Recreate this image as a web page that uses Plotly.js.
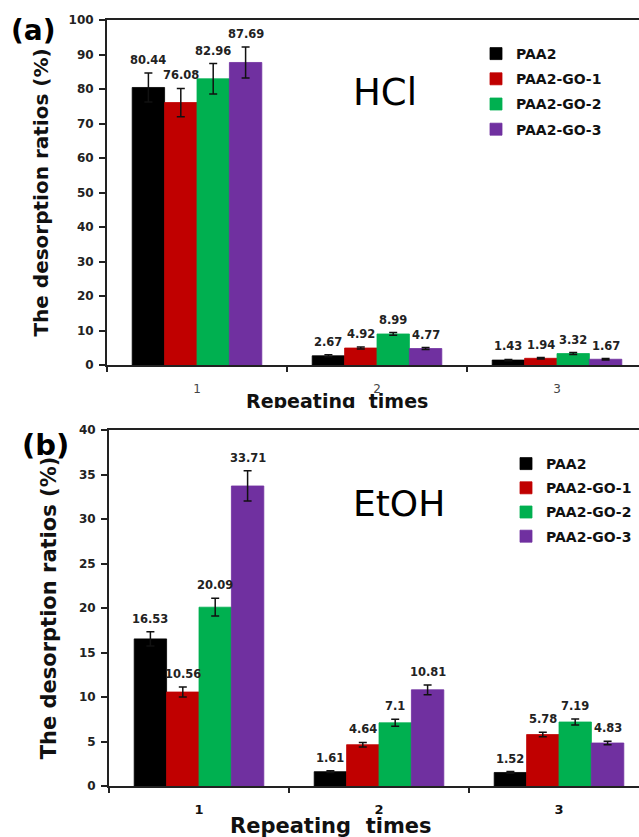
<!DOCTYPE html>
<html><head><meta charset="utf-8">
<script src="https://cdn.plot.ly/plotly-3.0.1.min.js"></script>
<style>
html,body{margin:0;padding:0;background:#fff;overflow:hidden;width:639px;height:837px;}
#wrapA{position:absolute;left:0;top:0;width:639px;height:408px;overflow:hidden;background:#fff;}
#wrapB{position:absolute;left:0;top:408px;width:639px;height:429px;overflow:hidden;background:#fff;}
</style></head><body>
<div id="wrapA"><div id="chartA"></div></div>
<div id="wrapB"><div id="chartB"></div></div>
<script>
// ---------- data ----------
const repeats = ['1', '2', '3'];
const seriesNames = ['PAA2', 'PAA2-GO-1', 'PAA2-GO-2', 'PAA2-GO-3'];

// (a) HCl
const hclPAA2 = [80.44, 2.67, 1.43];
const hclGO1  = [76.08, 4.92, 1.94];
const hclGO2  = [82.96, 8.99, 3.32];
const hclGO3  = [87.69, 4.77, 1.67];
const hclErrPAA2 = [4.2, 0.3, 0.2];
const hclErrGO1  = [4.1, 0.3, 0.2];
const hclErrGO2  = [4.4, 0.4, 0.3];
const hclErrGO3  = [4.5, 0.3, 0.2];

// (b) EtOH
const etohPAA2 = [16.53, 1.61, 1.52];
const etohGO1  = [10.56, 4.64, 5.78];
const etohGO2  = [20.09, 7.1, 7.19];
const etohGO3  = [33.71, 10.81, 4.83];
const etohErrPAA2 = [0.8, 0.1, 0.1];
const etohErrGO1  = [0.55, 0.25, 0.25];
const etohErrGO2  = [1.0, 0.4, 0.35];
const etohErrGO3  = [1.7, 0.55, 0.2];

// ---------- styles ----------
const colors = ['#000000', '#c00000', '#00b050', '#7030a0'];
const FONT = 'DejaVu Sans, Verdana, sans-serif';
const BARGAP = 0.28;

function makeTraces(valsList, errList, tag) {
  return valsList.map((vals, i) => ({
    type: 'bar', name: seriesNames[i], x: repeats, y: vals,
    legendgroup: tag + i,
    marker: {color: colors[i], line: {width: 0.8, color: colors[i]}},
    error_y: {type: 'data', array: errList[i], visible: true, color: '#111', thickness: 1.5, width: 4}
  }));
}
function makeLabels(valsList, errList) {
  const bw = (1 - BARGAP) / valsList.length;
  const out = [];
  valsList.forEach((vals, si) => {
    vals.forEach((v, ci) => {
      out.push({
        xref: 'x', yref: 'y', x: ci + (si - (valsList.length - 1) / 2) * bw,
        y: v + errList[si][ci], text: String(v), showarrow: false,
        xanchor: 'center', yanchor: 'bottom', yshift: 4,
        font: {family: FONT, size: 11.5, color: '#222', weight: 'bold'}
      });
    });
  });
  return out;
}
function pager(W, H, m, offY) {
  return (px, py) => ({
    x: (px - m.l) / (W - m.l - m.r),
    y: (H - m.b - (py - offY)) / (H - m.t - m.b)
  });
}
function baseLayout(W, H, m, yRange, dtick, xTickFont, xStandoff, legendPos, gap, yTitleSize, standoff) {
  return {
    width: W, height: H, margin: m,
    paper_bgcolor: '#fff', plot_bgcolor: '#fff',
    barmode: 'group', bargap: BARGAP, bargroupgap: 0,
    showlegend: true,
    legend: {x: legendPos.x, y: legendPos.y, xanchor: 'left', yanchor: 'top',
      bgcolor: 'rgba(0,0,0,0)', borderwidth: 0, tracegroupgap: gap, traceorder: 'grouped',
      font: {family: FONT, size: 14, color: '#111', weight: 'bold'}},
    xaxis: {type: 'category', range: [-0.5, 2.5], tickson: 'boundaries',
      ticks: 'outside', ticklen: 5, tickwidth: 2, tickcolor: '#222',
      showline: true, linewidth: 2, linecolor: '#222', mirror: true,
      showgrid: false, zeroline: false, ticklabelstandoff: xStandoff, tickfont: xTickFont},
    yaxis: {range: yRange, dtick: dtick, ticks: 'outside', ticklen: 6, tickwidth: 2, tickcolor: '#222',
      showline: true, linewidth: 2, linecolor: '#222', mirror: true,
      showgrid: false, zeroline: false, ticklabelstandoff: 3,
      tickfont: {family: FONT, size: 12, color: '#222', weight: 'bold'},
      title: {text: 'The desorption ratios (%)', standoff: standoff,
        font: {family: FONT, size: yTitleSize, color: '#111', weight: 'bold'}}}
  };
}

// ---------- panel (a) ----------
const WA = 650, HA = 420, mA = {l: 107, r: 3, t: 20, b: 55};
const pA = pager(WA, HA, mA, 0);
const legA = pA(476, 38);
const layoutA = baseLayout(WA, HA, mA, [0, 100], 10,
  {family: FONT, size: 12, color: '#444'}, 12, legA, 4, 20, 15);
const valsA = [hclPAA2, hclGO1, hclGO2, hclGO3];
const errsA = [hclErrPAA2, hclErrGO1, hclErrGO2, hclErrGO3];
const a1 = pA(33, 30), a2 = pA(385, 92), a3 = pA(337, 401);
layoutA.annotations = makeLabels(valsA, errsA).concat([
  {xref: 'paper', yref: 'paper', x: a1.x, y: a1.y, text: '(a)', showarrow: false,
    xanchor: 'center', yanchor: 'middle', font: {family: FONT, size: 28, color: '#000', weight: 'bold'}},
  {xref: 'paper', yref: 'paper', x: a2.x, y: a2.y, text: 'HCl', showarrow: false,
    xanchor: 'center', yanchor: 'middle', font: {family: FONT, size: 37, color: '#000'}},
  {xref: 'paper', yref: 'paper', x: a3.x, y: a3.y, text: 'Repeating\u00a0\u00a0times', showarrow: false,
    xanchor: 'center', yanchor: 'middle', font: {family: FONT, size: 19, color: '#111', weight: 'bold'}}
]);
Plotly.newPlot('chartA', makeTraces(valsA, errsA, 'a'), layoutA, {staticPlot: true, displayModeBar: false});

// ---------- panel (b) ----------
const WB = 652, HB = 429, mB = {l: 109, r: 3, t: 22, b: 51};
const pB = pager(WB, HB, mB, 408);
const legB = pB(506, 448);
const layoutB = baseLayout(WB, HB, mB, [0, 40], 5,
  {family: FONT, size: 13, color: '#111', weight: 'bold'}, 10, legB, 3, 21, 17);
const valsB = [etohPAA2, etohGO1, etohGO2, etohGO3];
const errsB = [etohErrPAA2, etohErrGO1, etohErrGO2, etohErrGO3];
const b1 = pB(45, 445), b2 = pB(399, 504), b3 = pB(331, 826);
layoutB.annotations = makeLabels(valsB, errsB).concat([
  {xref: 'paper', yref: 'paper', x: b1.x, y: b1.y, text: '(b)', showarrow: false,
    xanchor: 'center', yanchor: 'middle', font: {family: FONT, size: 29, color: '#000', weight: 'bold'}},
  {xref: 'paper', yref: 'paper', x: b2.x, y: b2.y, text: 'EtOH', showarrow: false,
    xanchor: 'center', yanchor: 'middle', font: {family: FONT, size: 36, color: '#000'}},
  {xref: 'paper', yref: 'paper', x: b3.x, y: b3.y, text: 'Repeating\u00a0\u00a0times', showarrow: false,
    xanchor: 'center', yanchor: 'middle', font: {family: FONT, size: 21, color: '#111', weight: 'bold'}}
]);
Plotly.newPlot('chartB', makeTraces(valsB, errsB, 'b'), layoutB, {staticPlot: true, displayModeBar: false});
</script>
</body></html>
